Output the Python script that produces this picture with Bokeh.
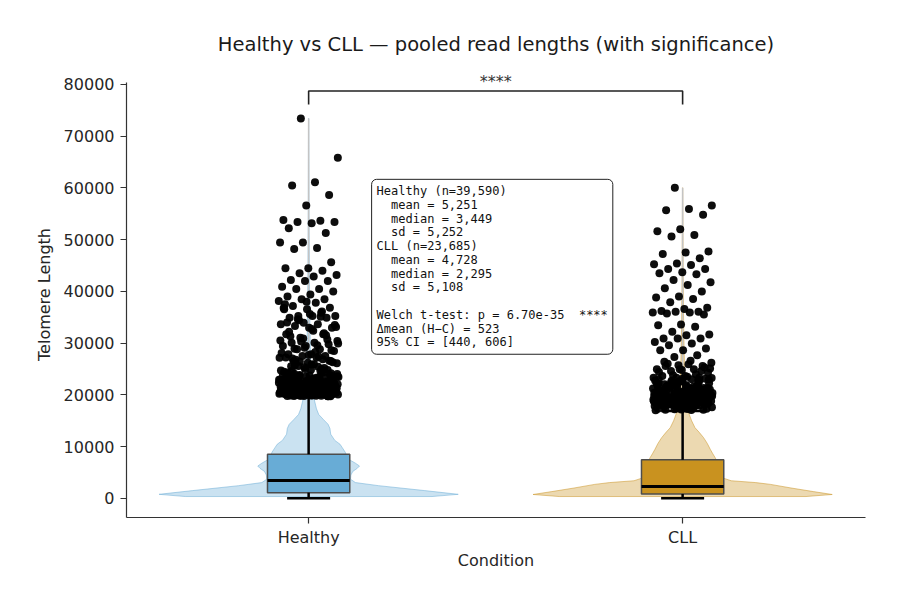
from bokeh.plotting import figure
from bokeh.models import Range1d, FixedTicker, Label, NumeralTickFormatter
from bokeh.embed import file_html
from bokeh.resources import INLINE

# ---------------- data ----------------
groups = ["Healthy", "CLL"]
positions = [0, 1]
n_reads = [39590, 23685]
means = [5251, 4728]
medians = [3449, 2295]
sds = [5252, 5108]
q1 = [1100, 850]
q3 = [8520, 7450]
whisk_lo = [0, 0]
whisk_hi = [19650, 16900]
data_min = [0, 0]
data_max = [73400, 60000]

welch_p = "6.70e-35"
sig_stars = "****"
delta_mean = 523
ci_95 = [440, 606]

# violin outlines: value levels and half-widths (x units)
H_kde_y = [350, 780, 1500, 2000, 2450, 3050, 3700, 4500, 5200, 5800, 6250, 6800,
           7500, 8500, 8900, 9800, 10450, 11200, 12400, 13500, 14300, 15200,
           16200, 17300, 18800, 20500, 23000, 27000, 33000, 42000, 55000, 73400]
H_kde_w = [0.33, 0.40, 0.31, 0.245, 0.187, 0.125, 0.112, 0.113, 0.118, 0.130, 0.136,
           0.125, 0.108, 0.100, 0.098, 0.090, 0.084, 0.070, 0.059, 0.057, 0.052,
           0.040, 0.027, 0.021, 0.016, 0.012, 0.008, 0.005, 0.0035, 0.002, 0.001, 0.0003]
C_kde_y = [350, 750, 1300, 2000, 2700, 3050, 3400, 4000, 5000, 6000, 7000, 7860,
           8700, 9470, 10600, 11730, 12700, 13660, 15000, 16560, 18500, 21000,
           25000, 32000, 42000, 60000]
C_kde_w = [0.33, 0.40, 0.35, 0.29, 0.235, 0.195, 0.13, 0.105, 0.10, 0.097, 0.093,
           0.087, 0.08, 0.074, 0.066, 0.056, 0.045, 0.033, 0.024, 0.016, 0.012,
           0.008, 0.005, 0.003, 0.0015, 0.0003]

# outlier read lengths (above upper whisker)
H_outliers = [
    73400, 65800, 61100, 60450, 58600, 56600, 53800, 53650, 53400, 53400, 53150,
    52200, 51260, 49450, 49450, 48350, 48200, 45630, 44460, 44460, 44000, 43500,
    43170, 42850, 42200, 42000, 42000, 40900, 40450, 40450, 39950, 39400, 39000,
    38455, 38455, 38130, 37810, 37170, 36845, 36520, 36520, 35880, 35235, 35235,
    35235, 34910, 34910, 33945, 33625, 33625, 33300, 32980, 32980, 31690, 31690,
    31050, 30405, 30080, 30080, 29760, 29440, 29440, 28795, 28795, 28470, 27830,
    27830, 27510, 27510, 27185, 27185, 26540, 26540, 26220,
    37500, 36100, 34400, 33100, 32400, 31300, 30700, 29100, 28100, 27400, 26800,
    26300, 35600, 34000, 31900, 30300, 29900, 28300, 27000, 26600,
    38000, 36800, 35100, 34600, 33500, 32700, 32200, 31500, 30900, 30500, 29600,
    28900, 28600, 27700, 27200, 26900, 26400, 26100, 25900, 25500,
    19740, 21380, 20510, 23120, 19950, 22640, 20870, 24310, 21760, 20190,
    22930, 19820, 21050, 23790, 20340, 22180, 24960, 19910, 21600, 20720,
    23350, 22410, 19780, 20960, 25420, 21230, 22770, 20060, 23980, 21890,
    19860, 22050, 20610, 24620, 21470, 23560, 20280, 22520, 19990, 21140,
    25870, 20800, 23240, 21970, 20430, 22860, 19760, 24150, 21310, 20150,
    22320, 23670, 20550, 21700, 19890, 24790, 22090, 20920, 23030, 21520,
    20240, 22690, 19800, 25180, 21040, 23450, 20680, 22260, 20010, 21820,
    24470, 20380, 22970, 21260, 19930, 23880, 20760, 22560, 21580, 20110,
    25650, 22140, 20470, 23170, 21930, 19850, 24030, 20870, 22430, 21190,
    20310, 23610, 22800, 19970, 21650, 24870, 20590, 22360, 21010, 20200,
    23310, 21440, 19730, 22710, 20990, 24250, 21780, 20420, 23050, 22000,
    19830, 25330, 20650, 21360, 22590, 20090, 23740, 21680, 20830, 22220,
    20050, 21910, 23520, 19790, 22480, 20700, 24580, 21120, 22040, 19880,
    23260, 20460, 21740, 22890, 20150, 24090, 21560, 19960, 22600, 20930,
    23840, 21290, 20270, 22750, 19740, 25000, 21020, 23400, 20580, 22170,
    19910, 21470, 24400, 20830, 22330, 20120, 23690, 21860, 20370, 22950,
    19820, 25560, 21190, 23010, 20640, 22520, 20000, 24720, 21630, 20890,
    23190, 22080, 20240, 21340, 19860, 23570, 20720, 22260, 21480, 20510,
]
C_outliers = [
    60000, 56560, 55900, 55670, 54800, 52000, 51600, 50900, 50600, 47700, 47500,
    47200, 46400, 45400, 45240, 45100, 44300, 44300, 43700, 43500, 43300, 42200,
    41750, 41200, 40580, 39950, 39000, 38830, 38500, 37900, 36830, 36570, 36180,
    36060, 36060, 35920, 35920, 35730, 35530, 33600, 33460, 33140, 32170, 31650,
    31500, 30870, 30870, 30870, 30230, 29900, 29570, 28930, 28600, 28600, 27630,
    27320, 26217, 25895, 25570, 25570, 24930, 24930, 24930, 24610, 24285, 23640,
    23640, 23320, 23320, 23320,
    26600, 26000, 25300, 24800, 24400, 24000, 23800, 25100, 23500, 26400, 24600,
    25700,
    17040, 19380, 18510, 21120, 17950, 20640, 18870, 22310, 19760, 18190,
    20930, 17120, 19050, 21790, 18340, 20180, 22960, 17910, 19600, 18720,
    21350, 20410, 17080, 18960, 23120, 19230, 20770, 18060, 21980, 19890,
    17860, 20050, 18610, 22620, 19470, 21560, 18280, 20520, 17990, 19140,
    22870, 18800, 21240, 19970, 18430, 20860, 17160, 22150, 19310, 18150,
    20320, 21670, 18550, 19700, 17890, 22790, 20090, 18920, 21030, 19520,
    18240, 20690, 17200, 23250, 19040, 21450, 18680, 20260, 18010, 19820,
    22470, 18380, 20970, 19260, 17930, 21880, 18760, 20560, 19580, 18110,
    22650, 20140, 18470, 21170, 19930, 17250, 22030, 18870, 20430, 19190,
    18310, 21610, 20800, 17970, 19650, 22870, 18590, 20360, 19010, 18200,
    21310, 19440, 17300, 20710, 18990, 22250, 19780, 18420, 21050, 20000,
    17830, 23000, 18650, 19360, 20590, 18090, 21740, 19680, 18830, 20220,
    17100, 18900, 20480, 22180, 17520, 19420, 21330, 18250, 20870, 22560,
    17680, 19050, 20190, 21780, 18630, 17400, 22910, 19690, 18050, 21010,
    20600, 17750, 19270, 22400, 18480, 20020, 21520, 17330, 19890, 18770,
    22050, 20310, 17620, 18990, 21260, 19540, 18330, 20740, 17880, 22700,
    19110, 21900, 18560, 20400, 17450, 19760, 21160, 18140, 20960, 23100,
]

# ---------------- styling ----------------
box_colors = ["#68acd6", "#c9921f"]
FONT = "DejaVu Sans"
MONO = "DejaVu Sans Mono"
NB = "\u00a0"
BOX_HALF = 0.11
CAP_HALF = 0.0575
JITTER = 0.08
Y_LO, Y_AXIS_TOP, Y_FRAME_TOP = -3700, 80350, 82475

p = figure(width=891, height=587, output_backend="svg", toolbar_location=None,
           x_range=Range1d(-0.487, 1.489), y_range=Range1d(Y_LO, Y_FRAME_TOP),
           min_border_left=126, min_border_right=26, min_border_top=71,
           min_border_bottom=70)
p.outline_line_color = None
p.grid.visible = False
p.background_fill_color = "white"

p.title.text = "Healthy vs CLL \u2014 pooled read lengths (with significance)"
p.title.align = "center"
p.title.text_font = FONT
p.title.text_font_size = "19.5px"
p.title.text_font_style = "normal"
p.title.text_color = "#1a1a1a"
p.title.standoff = 32

for ax in (p.xaxis[0], p.yaxis[0]):
    ax.axis_line_color = "#333333"
    ax.axis_line_width = 1.2
    ax.major_tick_line_color = "#333333"
    ax.major_tick_line_width = 1.2
    ax.major_tick_out = 6
    ax.major_tick_in = 0
    ax.minor_tick_line_color = None
    ax.major_label_text_font = FONT
    ax.major_label_text_font_size = "16px"
    ax.major_label_text_color = "#262626"
    ax.axis_label_text_font = FONT
    ax.axis_label_text_font_size = "16px"
    ax.axis_label_text_font_style = "normal"
    ax.axis_label_text_color = "#262626"
    ax.major_label_standoff = 6

p.xaxis.ticker = FixedTicker(ticks=positions)
p.xaxis.major_label_overrides = {pos: g for pos, g in zip(positions, groups)}
p.xaxis.axis_label = "Condition"
p.xaxis.major_label_standoff = 4
p.xaxis.axis_label_standoff = 1
p.yaxis.ticker = FixedTicker(ticks=list(range(0, 80001, 10000)))
p.yaxis.formatter = NumeralTickFormatter(format="0")
p.yaxis.axis_label = "Telomere Length"
p.yaxis.axis_label_standoff = 7
p.yaxis.bounds = (Y_LO, Y_AXIS_TOP)

# violins
for pos, ky, kw, col in zip(positions, [H_kde_y, C_kde_y], [H_kde_w, C_kde_w], box_colors):
    xs = [pos + w for w in kw] + [pos - w for w in reversed(kw)]
    ys = list(ky) + list(reversed(ky))
    p.patch(xs, ys, fill_color=col, fill_alpha=0.35, line_color=col,
            line_alpha=0.5, line_width=1)

# extrema line
p.segment(x0=positions, y0=data_min, x1=positions, y1=data_max,
          line_color="#c4c4c4", line_width=1.5)

# boxes
p.quad(left=[x - BOX_HALF for x in positions], right=[x + BOX_HALF for x in positions],
       bottom=q1, top=q3, fill_color=box_colors, line_color="#4d4d4d", line_width=1.5)
# whiskers
p.segment(x0=positions, y0=q3, x1=positions, y1=whisk_hi, line_color="black", line_width=2.5)
p.segment(x0=positions, y0=q1, x1=positions, y1=whisk_lo, line_color="black", line_width=2.5)
p.segment(x0=[x - CAP_HALF for x in positions], y0=whisk_hi,
          x1=[x + CAP_HALF for x in positions], y1=whisk_hi, line_color="black", line_width=2.5)
p.segment(x0=[x - CAP_HALF for x in positions], y0=whisk_lo,
          x1=[x + CAP_HALF for x in positions], y1=whisk_lo, line_color="black", line_width=2.5)
# medians
p.segment(x0=[x - BOX_HALF for x in positions], y0=medians,
          x1=[x + BOX_HALF for x in positions], y1=medians, line_color="black", line_width=3)

# outlier points with deterministic (golden-ratio) jitter
GOLD = 0.6180339887
for pos, vals in zip(positions, [H_outliers, C_outliers]):
    xs = [pos + JITTER * (2 * ((i * GOLD + 0.37) % 1.0) - 1) for i in range(len(vals))]
    p.scatter(xs, vals, size=8, fill_color="black", fill_alpha=0.95, line_color=None)

# significance bracket
bracket_y = 78700
bracket_leg = 76100
p.line([positions[0], positions[0], positions[1], positions[1]],
       [bracket_leg, bracket_y, bracket_y, bracket_leg], line_color="#222222", line_width=1.6)
p.add_layout(Label(x=(positions[0] + positions[1]) / 2, y=80600,
                   text=sig_stars, text_align="center", text_baseline="alphabetic",
                   text_font=FONT, text_font_size="16px", text_color="#333333"))

# stats box
lines = []
for g, n, m, md, s in zip(groups, n_reads, means, medians, sds):
    lines.append(f"{g} (n={n:,})")
    lines.append(f"{NB}{NB}mean = {m:,}")
    lines.append(f"{NB}{NB}median = {md:,}")
    lines.append(f"{NB}{NB}sd = {s:,}")
lines.append(NB)
lines.append(f"Welch t-test: p = {welch_p}{NB}{NB}{sig_stars}")
lines.append(f"\u0394mean (H\u2212C) = {delta_mean}")
lines.append(f"95% CI = [{ci_95[0]}, {ci_95[1]}]")
stats_text = "\n".join(lines)

p.add_layout(Label(x=0.1684, y=61640, text=stats_text, anchor="top_left",
                   text_align="left", text_baseline="top",
                   text_font=MONO, text_font_size="12px", text_color="#111111",
                   text_line_height=0.98,
                   background_fill_color="white", background_fill_alpha=1.0,
                   border_line_color="#222222", border_line_width=1,
                   border_radius=5, padding=5))

open("out.html", "w").write(file_html(p, INLINE))
